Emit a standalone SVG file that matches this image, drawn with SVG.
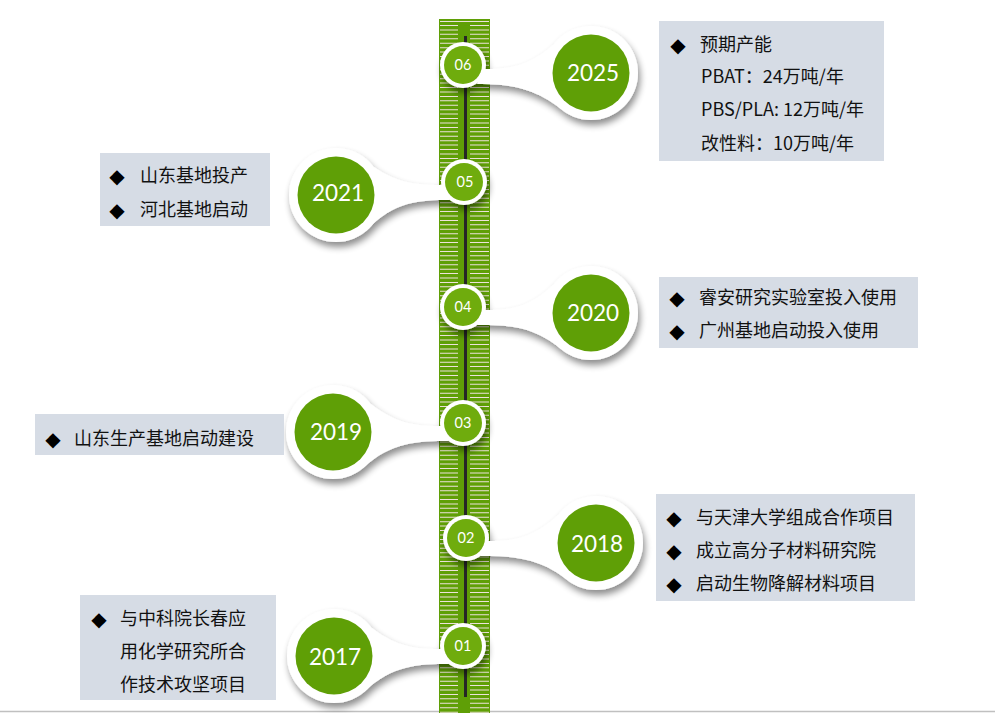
<svg xmlns="http://www.w3.org/2000/svg" width="995" height="713" viewBox="0 0 995 713">
<defs>
<style>
.box{fill:#d6dce5}
.big{fill:#5f9f06}
.sm{fill:#6fac0d}
.yr{font-family:Lato,"Liberation Sans",sans-serif;font-size:22.5px;fill:#ffffff;text-anchor:middle}
.nm{font-family:Lato,"Liberation Sans",sans-serif;font-size:14.5px;fill:#ffffff;text-anchor:middle}
.tx{font-family:"Noto Sans CJK SC","Noto Sans",sans-serif;font-size:18px;fill:#111111}
.dm{font-family:"DejaVu Sans",sans-serif;font-size:20px;fill:#000000;text-anchor:middle}
.wh{fill:#ffffff}
.st{stroke:#ede2da;stroke-dasharray:1 3.43;fill:none}
</style>
<filter id="shadow" x="-5%" y="-5%" width="110%" height="115%">
<feGaussianBlur in="SourceAlpha" stdDeviation="3.5" result="b"/>
<feOffset in="b" dx="2" dy="5" result="o"/>
<feComponentTransfer in="o" result="s"><feFuncA type="linear" slope="0.45"/></feComponentTransfer>
<feMerge><feMergeNode in="s"/><feMergeNode in="SourceGraphic"/></feMerge>
</filter>
</defs>
<rect width="995" height="713" fill="#ffffff"/>
<line x1="0" y1="711.5" x2="995" y2="711.5" stroke="#c0c0c0" stroke-width="1.5"/>
<g id="timeline">
<rect x="439" y="19" width="51" height="694" fill="#5f9f06"/>
<line class="st" x1="449" y1="25" x2="449" y2="713" stroke-width="18"/>
<line class="st" x1="479.5" y1="25" x2="479.5" y2="713" stroke-width="19"/>
<rect x="440" y="21" width="49" height="1" fill="#ede2da"/>
<rect x="464" y="36" width="3" height="661" fill="#262626"/>
</g>
<g id="connectors" filter="url(#shadow)" class="wh">
<circle cx="591" cy="73" r="47"/><circle cx="463" cy="65" r="23"/>
<path d="M483,69 C508,69 528,67 553,45 L561,109 C533,87 508,84 477,84 Z"/>
<circle cx="336" cy="195" r="47"/><circle cx="464" cy="182" r="23"/>
<path d="M444,185 C419,185 399,184 374,167 L366,231 C394,201 419,200 450,200 Z"/>
<circle cx="591" cy="313" r="47"/><circle cx="463" cy="307" r="23"/>
<path d="M483,310 C508,310 528,309 553,285 L561,349 C533,326 508,325 477,325 Z"/>
<circle cx="333" cy="432" r="47"/><circle cx="463" cy="423" r="23"/>
<path d="M443,426 C418,426 398,425 371,404 L363,468 C391,442 418,441 449,441 Z"/>
<circle cx="596" cy="543" r="47"/><circle cx="466" cy="538" r="23"/>
<path d="M486,541 C511,541 531,540 558,515 L566,579 C538,557 511,556 480,556 Z"/>
<circle cx="334" cy="656" r="47"/><circle cx="463" cy="646" r="23"/>
<path d="M443,649 C418,649 398,648 372,628 L364,692 C392,665 418,664 449,664 Z"/>
</g>
<g id="node-2025">
<circle class="sm" cx="463" cy="65" r="19"/><text class="nm" x="463" y="70">06</text>
<circle class="big" cx="591" cy="73" r="38.5"/><text class="yr" x="593" y="81">2025</text>
<rect class="box" x="659" y="21" width="225" height="140"/>
<text class="dm" x="678" y="52">◆</text>
<text class="tx" x="700" y="51">预期产能</text>
<text class="tx" x="701" y="83">PBAT：24万吨/年</text>
<text class="tx" x="701" y="116">PBS/PLA: 12万吨/年</text>
<text class="tx" x="701" y="150">改性料：10万吨/年</text>
</g>
<g id="node-2021">
<circle class="sm" cx="464" cy="182" r="19"/><text class="nm" x="465" y="187">05</text>
<circle class="big" cx="336" cy="195" r="38.5"/><text class="yr" x="338" y="201">2021</text>
<rect class="box" x="100" y="153" width="170" height="73"/>
<text class="dm" x="117" y="183">◆</text>
<text class="tx" x="140" y="182">山东基地投产</text>
<text class="dm" x="117" y="217">◆</text>
<text class="tx" x="140" y="216">河北基地启动</text>
</g>
<g id="node-2020">
<circle class="sm" cx="463" cy="307" r="19"/><text class="nm" x="463" y="312">04</text>
<circle class="big" cx="591" cy="313" r="38.5"/><text class="yr" x="593" y="321">2020</text>
<rect class="box" x="659" y="277" width="259" height="71"/>
<text class="dm" x="677" y="305">◆</text>
<text class="tx" x="699" y="304">睿安研究实验室投入使用</text>
<text class="dm" x="677" y="338">◆</text>
<text class="tx" x="699" y="337">广州基地启动投入使用</text>
</g>
<g id="node-2019">
<circle class="sm" cx="463" cy="423" r="19"/><text class="nm" x="463" y="428">03</text>
<circle class="big" cx="333" cy="432" r="38.5"/><text class="yr" x="336" y="440">2019</text>
<rect class="box" x="35" y="414" width="249" height="41"/>
<text class="dm" x="53" y="446">◆</text>
<text class="tx" x="74" y="445">山东生产基地启动建设</text>
</g>
<g id="node-2018">
<circle class="sm" cx="466" cy="538" r="19"/><text class="nm" x="466" y="543">02</text>
<circle class="big" cx="596" cy="543" r="38.5"/><text class="yr" x="597" y="552">2018</text>
<rect class="box" x="656" y="494" width="259" height="107"/>
<text class="dm" x="674" y="525">◆</text>
<text class="tx" x="696" y="524">与天津大学组成合作项目</text>
<text class="dm" x="674" y="558">◆</text>
<text class="tx" x="696" y="557">成立高分子材料研究院</text>
<text class="dm" x="674" y="591">◆</text>
<text class="tx" x="696" y="590">启动生物降解材料项目</text>
</g>
<g id="node-2017">
<circle class="sm" cx="463" cy="646" r="19"/><text class="nm" x="463" y="651">01</text>
<circle class="big" cx="334" cy="656" r="38.5"/><text class="yr" x="335" y="665">2017</text>
<rect class="box" x="80" y="595" width="196" height="105"/>
<text class="dm" x="99" y="626">◆</text>
<text class="tx" x="120" y="625">与中科院长春应</text>
<text class="tx" x="120" y="658">用化学研究所合</text>
<text class="tx" x="120" y="691">作技术攻坚项目</text>
</g>
</svg>
